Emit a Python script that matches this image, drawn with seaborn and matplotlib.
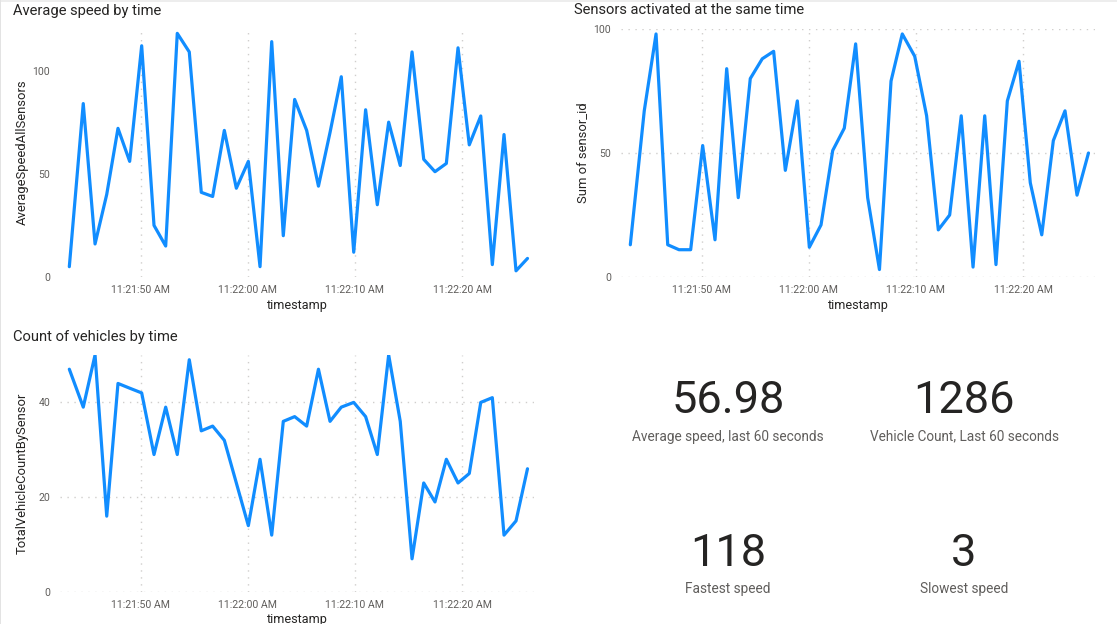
import matplotlib
matplotlib.use("Agg")
import matplotlib.pyplot as plt
import matplotlib.dates as mdates
from matplotlib.patches import Rectangle
import pandas as pd
import seaborn as sns

# seconds after 11:21:00 for every sample
seconds = [43.36, 44.66, 45.76, 46.85, 47.9, 48.99, 50.11, 51.26, 52.35, 53.43,
           54.55, 55.67, 56.73, 57.82, 58.94, 60.06, 61.15, 62.24, 63.32, 64.38,
           65.5, 66.6, 67.68, 68.73, 69.89, 71.0, 72.09, 73.15, 74.23, 75.33,
           76.42, 77.47, 78.53, 79.62, 80.67, 81.74, 82.82, 83.91, 85.03, 86.1]

avg_speed = [5, 84, 16, 40, 72, 56, 112, 25, 15, 118,
             109, 41, 39, 71, 43, 56, 5, 114, 20, 86,
             71, 44, 70, 97, 12, 81, 35, 75, 54, 109,
             57, 51, 55, 111, 64, 78, 6, 69, 3, 9]

sensor_sum = [13, 67, 98, 13, 11, 11, 53, 15, 84, 32,
              80, 88, 91, 43, 71, 12, 21, 51, 60, 94,
              32, 3, 79, 98, 89, 65, 19, 25, 65, 4,
              65, 5, 71, 87, 38, 17, 55, 67, 33, 50]

vehicle_count = [47, 39, 50, 16, 44, 43, 42, 29, 39, 29,
                 49, 34, 35, 32, 23, 14, 28, 12, 36, 37,
                 35, 47, 36, 39, 40, 37, 29, 50, 36, 7,
                 23, 19, 28, 23, 25, 40, 41, 12, 15, 26]

kpi_values = ["56.98", "1286", "118", "3"]
kpi_labels = ["Average speed, last 60 seconds", "Vehicle Count, Last 60 seconds",
              "Fastest speed", "Slowest speed"]

W, H = 1117, 624
BLUE = "#118DFF"
DARK = "#252423"
GREY = "#605E5C"
GRID = "#D0CECC"

sns.set_theme(style="white")
plt.rcParams["font.family"] = ["Roboto", "DejaVu Sans"]

base = pd.Timestamp("2021-01-01 11:21:00")
df = pd.DataFrame({
    "timestamp": base + pd.to_timedelta(seconds, unit="s"),
    "AverageSpeedAllSensors": avg_speed,
    "Sum of sensor_id": sensor_sum,
    "TotalVehicleCountBySensor": vehicle_count,
})

fig = plt.figure(figsize=(W / 100, H / 100), dpi=100, facecolor="white")


def panel(column, title, title_x, title_y, box, ylim, yticks, hgrid, ylabel_x, xlabel_y):
    left, top, right, bottom = box
    ax = fig.add_axes([left / W, 1 - bottom / H, (right - left) / W, (bottom - top) / H])
    sns.lineplot(data=df, x="timestamp", y=column, color=BLUE, linewidth=2.3, ax=ax)
    # 10.72 px per second, 11:21:50 sits at left + 80.5
    t0 = pd.Timestamp("2021-01-01 11:21:50")
    ax.set_xlim(t0 + pd.to_timedelta(-(80.5) / 10.72, unit="s"),
                t0 + pd.to_timedelta((right - left - 80.5) / 10.72, unit="s"))
    ax.set_ylim(*ylim)
    ax.set_yticks(yticks)
    ax.xaxis.set_major_locator(mdates.SecondLocator(bysecond=[0, 10, 20, 30, 40, 50]))
    ax.xaxis.set_major_formatter(lambda v, pos: mdates.num2date(v).strftime("%I:%M:%S %p"))
    ax.tick_params(axis="both", length=0, labelsize=7.6, labelcolor=GREY, pad=6)
    ax.tick_params(axis="y", pad=7)
    ax.grid(axis="x", color=GRID, linestyle=(0, (1, 4)), linewidth=1)
    if hgrid:
        ax.grid(axis="y", color=GRID, linestyle=(0, (1, 4)), linewidth=1)
    sns.despine(ax=ax, left=True, bottom=True)
    ax.set_axisbelow(True)
    ax.set_xlabel("timestamp", fontsize=9.1, color=DARK)
    ax.xaxis.set_label_coords(0.5, (bottom - xlabel_y) / (bottom - top), transform=ax.transAxes)
    ax.xaxis.label.set_va("center")
    ax.set_ylabel(column, fontsize=9.4, color=DARK)
    ax.yaxis.set_label_coords((ylabel_x - left) / (right - left), 0.5, transform=ax.transAxes)
    ax.yaxis.label.set_va("center")
    fig.text(title_x / W, 1 - title_y / H, title, fontsize=10.6, color=DARK, va="center", ha="left")


panel("AverageSpeedAllSensors", "Average speed by time", 13, 10.5, (60, 28, 535, 277), (0, 120.6), [0, 50, 100], False, 22, 306)
panel("Sum of sensor_id", "Sensors activated at the same time", 574, 10.5, (621, 29, 1095, 277), (0, 100), [0, 50, 100], True, 583, 306)
panel("TotalVehicleCountBySensor", "Count of vehicles by time", 13, 336.5, (60, 355, 534, 592), (0, 50), [0, 20, 40], True, 22, 619)

# KPI cards
kpi_x = [728, 964, 728, 964]
kpi_value_y = [401, 401, 554, 554]
kpi_label_y = [436.5, 436.5, 589, 589]
for val, lab, x, vy, ly in zip(kpi_values, kpi_labels, kpi_x, kpi_value_y, kpi_label_y):
    fig.text(x / W, 1 - vy / H, val, fontsize=32.5, color=DARK, ha="center", va="center")
    fig.text(x / W, 1 - ly / H, lab, fontsize=9.8, color=GREY, ha="center", va="center")

# page edge shadow
fig.add_artist(Rectangle((0, 1 - 2 / H), 1, 2 / H, transform=fig.transFigure, color="#EDEDED", lw=0))
fig.add_artist(Rectangle((0, 0), 1 / W, 1, transform=fig.transFigure, color="#E3E3E3", lw=0))

fig.savefig("out.png", dpi=100)
